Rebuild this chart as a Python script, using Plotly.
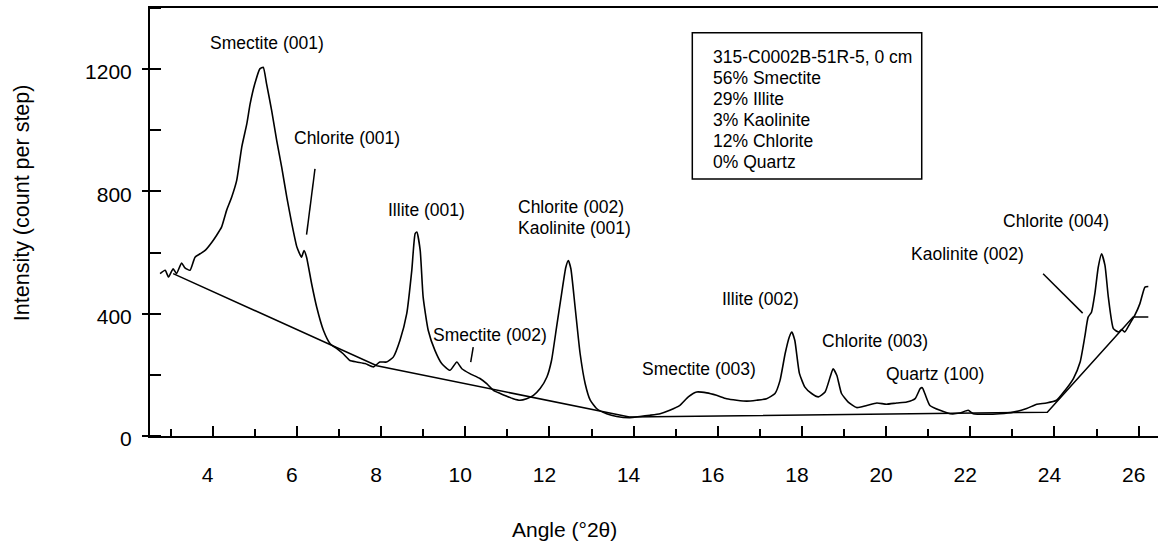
import plotly.graph_objects as go

# ---- data ----
two_theta = [
    2.75, 2.87, 2.95, 3.06, 3.14, 3.26, 3.34, 3.46, 3.58, 3.70,
    3.82, 3.98, 4.09, 4.21, 4.33, 4.45, 4.57, 4.69, 4.81, 4.89,
    5.00, 5.12, 5.20, 5.28, 5.40, 5.52, 5.64, 5.76, 5.88, 6.00,
    6.11, 6.17, 6.23, 6.35, 6.47, 6.63, 6.79, 6.95, 7.10, 7.26,
    7.42, 7.62, 7.82, 7.97, 8.13, 8.29, 8.45, 8.61, 8.73, 8.81,
    8.85, 8.93, 9.00, 9.12, 9.28, 9.44, 9.64, 9.80, 9.92, 10.11,
    10.35, 10.51, 10.67, 10.83, 10.99, 11.14, 11.30, 11.46, 11.62, 11.78,
    11.94, 12.05, 12.17, 12.29, 12.39, 12.45, 12.51, 12.61, 12.73, 12.85,
    12.97, 13.12, 13.36, 13.60, 13.91, 14.15, 14.39, 14.63, 14.86, 15.10,
    15.30, 15.50, 15.74, 15.97, 16.21, 16.45, 16.69, 16.92, 17.16, 17.36,
    17.48, 17.60, 17.70, 17.76, 17.83, 17.94, 18.07, 18.23, 18.39, 18.55,
    18.67, 18.74, 18.83, 18.94, 19.10, 19.30, 19.54, 19.78, 20.01, 20.25,
    20.49, 20.69, 20.81, 20.86, 20.92, 21.04, 21.28, 21.52, 21.75, 21.95,
    22.07, 22.39, 22.70, 23.02, 23.34, 23.58, 23.81, 24.05, 24.25, 24.45,
    24.61, 24.72, 24.80, 24.88, 24.96, 25.04, 25.12, 25.20, 25.28, 25.40,
    25.52, 25.60, 25.67, 25.79, 25.91, 26.03, 26.15, 26.23,
]
intensity = [
    531, 542, 520, 547, 531, 566, 550, 542, 585, 596,
    607, 634, 656, 683, 738, 781, 836, 945, 1021, 1087,
    1152, 1201, 1206, 1152, 1065, 967, 879, 781, 694, 618,
    585, 607, 585, 498, 422, 346, 302, 286, 269, 247,
    242, 237, 226, 242, 242, 258, 313, 400, 542, 662,
    667, 607, 454, 346, 280, 237, 215, 242, 220, 204,
    188, 171, 149, 139, 130, 122, 117, 122, 133, 155,
    193, 247, 356, 466, 552, 574, 547, 422, 269, 171,
    117, 90, 73, 64, 60, 64, 68, 73, 84, 100,
    128, 144, 141, 133, 122, 117, 114, 117, 122, 139,
    182, 269, 324, 340, 313, 205, 160, 139, 128, 144,
    193, 220, 198, 139, 111, 93, 100, 108, 104, 108,
    111, 122, 155, 158, 139, 100, 84, 73, 75, 84,
    73, 71, 73, 78, 90, 104, 108, 117, 149, 188,
    242, 324, 389, 405, 466, 552, 596, 558, 454, 351,
    340, 348, 340, 367, 395, 433, 487, 489,
]
assert len(two_theta) == len(intensity)

baseline_x = [3.06, 7.90, 13.90, 23.83, 25.87, 26.23]
baseline_y = [531, 230, 62, 78, 389, 389]

peak_labels = ["Smectite (001)", "Chlorite (001)", "Illite (001)", "Smectite (002)",
               "Illite (002)", "Smectite (003)", "Chlorite (003)", "Quartz (100)",
               "Kaolinite (002)", "Chlorite (004)"]
peak_label_x = [5.30, 7.18, 9.08, 10.60, 17.01, 15.55, 19.74, 21.17, 21.93, 24.04]
peak_label_y = [1285, 975, 738, 331, 449, 220, 310, 204, 596, 703]

stacked_labels = ["Chlorite (002)", "Kaolinite (001)"]
stacked_label_x = [11.21, 11.21]
stacked_label_y = [749, 680]

# pointer lines (x0, y0, x1, y1) in data units
pointers = [
    (6.43, 874, 6.23, 659),
    (10.19, 291, 10.13, 242),
    (23.73, 531, 24.67, 402),
]

info_lines = ["315-C0002B-51R-5, 0 cm", "56% Smectite", "29% Illite",
              "3% Kaolinite", "12% Chlorite", "0% Quartz"]

x_ticks = [4, 6, 8, 10, 12, 14, 16, 18, 20, 22, 24, 26]
y_ticks = [0, 400, 800, 1200]

FONT = "Liberation Sans, Arial, sans-serif"

fig = go.Figure()
fig.add_trace(go.Scatter(x=baseline_x, y=baseline_y, mode="lines",
                         line=dict(color="black", width=1.5), hoverinfo="skip"))
fig.add_trace(go.Scatter(x=two_theta, y=intensity, mode="lines",
                         line=dict(color="black", width=1.6, shape="spline", smoothing=0.5),
                         hoverinfo="skip"))

annotations = []
for t, x, y in zip(peak_labels, peak_label_x, peak_label_y):
    annotations.append(dict(x=x, y=y, xref="x", yref="y", text=t, showarrow=False,
                            font=dict(size=17.5, color="black", family=FONT)))
for t, x, y in zip(stacked_labels, stacked_label_x, stacked_label_y):
    annotations.append(dict(x=x, y=y, xref="x", yref="y", text=t, showarrow=False,
                            xanchor="left",
                            font=dict(size=17.5, color="black", family=FONT)))

# info box text lines (paper coords)
info_y = [0.8862, 0.8372, 0.7874, 0.7383, 0.6893, 0.6395]
for t, yy in zip(info_lines, info_y):
    annotations.append(dict(x=0.5565, y=yy, xref="paper", yref="paper", text=t,
                            showarrow=False, xanchor="left", yanchor="middle",
                            font=dict(size=17.5, color="black", family=FONT)))

# axis titles
annotations.append(dict(x=-0.1263, y=0.5456, xref="paper", yref="paper",
                        text="Intensity (count per step)", textangle=-90, showarrow=False,
                        xanchor="center", yanchor="middle",
                        font=dict(size=21.5, color="black", family=FONT)))
annotations.append(dict(x=0.4114, y=-0.2196, xref="paper", yref="paper",
                        text="Angle (°2θ)", showarrow=False,
                        xanchor="center", yanchor="middle",
                        font=dict(size=21, color="black", family=FONT)))

shapes = []
for x0, y0, x1, y1 in pointers:
    shapes.append(dict(type="line", xref="x", yref="y", x0=x0, y0=y0, x1=x1, y1=y1,
                       line=dict(color="black", width=1.5)))
shapes.append(dict(type="rect", xref="paper", yref="paper", x0=0.538, x1=0.7656,
                   y0=0.6005, y1=0.9423, line=dict(color="black", width=1.5)))

fig.update_layout(
    width=1158, height=542,
    margin=dict(l=150, r=0, t=8, b=106),
    paper_bgcolor="white", plot_bgcolor="white",
    showlegend=False,
    font=dict(family=FONT, color="black"),
    annotations=annotations,
    shapes=shapes,
    xaxis=dict(range=[2.51, 26.46], tickvals=x_ticks, showgrid=False, zeroline=False,
               showline=True, linecolor="black", linewidth=2, mirror=True,
               ticks="inside", ticklen=10, tickwidth=1.5, tickcolor="black",
               minor=dict(dtick=1, tick0=0, ticks="inside", ticklen=7, tickwidth=1.5,
                          tickcolor="black", showgrid=False),
               tickfont=dict(size=21, family=FONT, color="black"),
               ticklabelstandoff=19, ticklabelshift=-5),
    yaxis=dict(range=[0, 1400], tickvals=y_ticks, showgrid=False, zeroline=False,
               showline=True, linecolor="black", linewidth=2,
               ticks="outside", ticklen=6, tickwidth=1.5, tickcolor="black",
               minor=dict(dtick=200, tick0=0, ticks="inside", ticklen=11, tickwidth=1.5,
                          tickcolor="black", showgrid=False),
               tickfont=dict(size=21, family=FONT, color="black"),
               ticklabelstandoff=6, ticklabelshift=3),
)

fig.write_html("out.html")
